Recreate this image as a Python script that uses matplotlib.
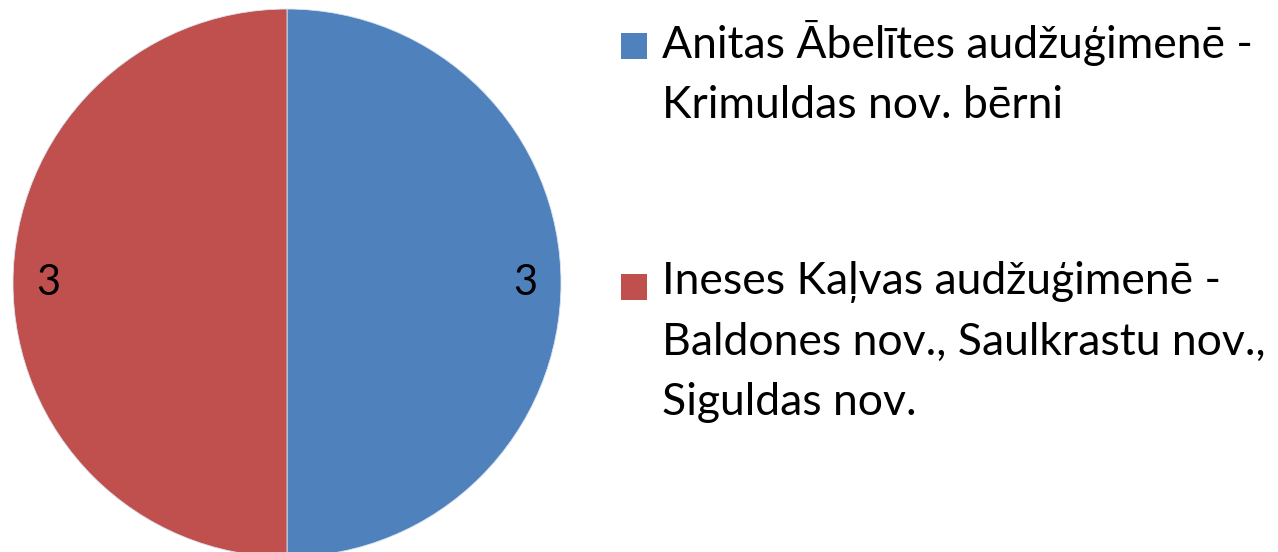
import matplotlib.pyplot as plt
from matplotlib.patches import Rectangle

# Data
groups = ["Anitas Ābelītes audžuģimenē -\nKrimuldas nov. bērni",
          "Ineses Kaļvas audžuģimenē -\nBaldones nov., Saulkrastu nov.,\nSiguldas nov."]
counts = [3, 3]
colors = ["#4F81BD", "#C0504D"]

plt.rcParams['font.family'] = ['Lato', 'DejaVu Sans']

W, H = 1278, 552
fig = plt.figure(figsize=(W/100, H/100), dpi=100)

# pie axes, centre ~ (287, 283) px, radius ~274 px
cx, cy, r = 287, 283, 274
ax = fig.add_axes([(cx - r)/W, (H - cy - r)/H, 2*r/W, 2*r/H])
total = sum(counts)
ax.pie(counts, colors=colors, startangle=90, counterclock=False,
       autopct=lambda p: f"{p*total/100:.0f}", pctdistance=0.87,
       wedgeprops=dict(edgecolor="#dbe3ee", linewidth=0.6),
       textprops=dict(fontsize=30, color="black", family=['Lato', 'DejaVu Sans']))
ax.set_xlim(-1, 1)
ax.set_ylim(-1, 1)
ax.set_aspect('equal')

# legend drawn by hand so the marker sits on the first line of each entry
entry_top = [20, 261]   # px from top
for top, lab, c in zip(entry_top, groups, colors):
    fig.patches.append(Rectangle((621/W, 1 - (top + 39)/H), 26/W, 26/H,
                                 transform=fig.transFigure, facecolor=c,
                                 edgecolor='none'))
    fig.text(662/W, 1 - top/H, lab, fontsize=32, va='top', ha='left',
             linespacing=1.58)

fig.savefig("out.png", dpi=100)
